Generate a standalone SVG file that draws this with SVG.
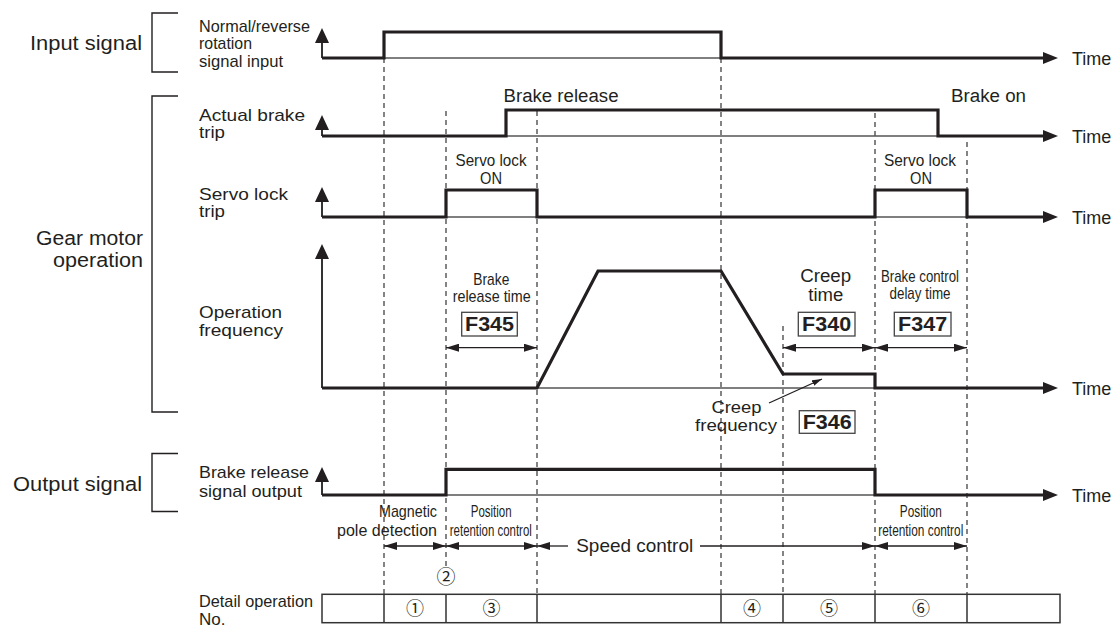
<svg xmlns="http://www.w3.org/2000/svg" xmlns:xlink="http://www.w3.org/1999/xlink" width="1115" height="627" viewBox="0 0 1115 627">
<style>
text{font-family:"Liberation Sans",Arial,sans-serif;fill:#231f20}
.grp{font-size:20px}
.lbl{font-size:17px}
.cnd{font-size:17px;text-anchor:middle}
.mid{text-anchor:middle}
.fc{font-size:20px;font-weight:bold;text-anchor:middle}
.num{font-family:"Noto Sans CJK JP","DejaVu Sans",sans-serif;font-size:18px;text-anchor:middle}
.sig{fill:none;stroke:#231f20;stroke-width:3.2;stroke-linejoin:miter}
.base{stroke:#555;stroke-width:1.3}
.axis{stroke:#333;stroke-width:2}
.brk{fill:none;stroke:#231f20;stroke-width:1.4}
.dash{stroke:#333;stroke-width:1.2;stroke-dasharray:5 4}
.dim{stroke:#231f20;stroke-width:1.3;fill:none}
.box{fill:#fff;stroke:#444;stroke-width:1.3}
.tbl{fill:none;stroke:#333;stroke-width:1.5}
</style>
<defs>
<path id="tri-r" d="M-15,-6 L0,0 L-15,6 z" fill="#231f20"/>
<path id="tri-u" d="M-7,15 L0,0 L7,15 z" fill="#231f20"/>
<marker id="dh" markerUnits="userSpaceOnUse" markerWidth="13" markerHeight="8" refX="13" refY="4" orient="auto-start-reverse">
<path d="M0,0 L13,4 L0,8 z" fill="#231f20"/>
</marker>
<marker id="sh" markerUnits="userSpaceOnUse" markerWidth="10" markerHeight="6" refX="10" refY="3" orient="auto">
<path d="M0,0 L10,3 L0,6 z" fill="#231f20"/>
</marker>
</defs>

<g id="group-labels">
<text class="grp" x="142" y="50" text-anchor="end" textLength="112" lengthAdjust="spacingAndGlyphs">Input signal</text>
<path class="brk" d="M178,13 H152 V72 H178"/>
<text class="grp" x="143" y="245" text-anchor="end" textLength="107" lengthAdjust="spacingAndGlyphs">Gear motor</text>
<text class="grp" x="143" y="267" text-anchor="end" textLength="90" lengthAdjust="spacingAndGlyphs">operation</text>
<path class="brk" d="M178,96 H152 V412 H178"/>
<text class="grp" x="142" y="490.5" text-anchor="end" textLength="129" lengthAdjust="spacingAndGlyphs">Output signal</text>
<path class="brk" d="M178,453.5 H152 V511.5 H178"/>
</g>

<g id="dashed-guides">
<line class="dash" x1="384" y1="58" x2="384" y2="594"/>
<line class="dash" x1="446" y1="111" x2="446" y2="566"/>
<line class="dash" x1="537" y1="111" x2="537" y2="594"/>
<line class="dash" x1="721" y1="58" x2="721" y2="594"/>
<line class="dash" x1="783" y1="326" x2="783" y2="594"/>
<line class="dash" x1="875" y1="113" x2="875" y2="594"/>
<line class="dash" x1="967" y1="142" x2="967" y2="594"/>
</g>

<g id="input-signal">
<text class="lbl" x="199" y="31.5" textLength="111" lengthAdjust="spacingAndGlyphs">Normal/reverse</text>
<text class="lbl" x="199" y="49.3" textLength="53" lengthAdjust="spacingAndGlyphs">rotation</text>
<text class="lbl" x="199" y="66.7" textLength="84" lengthAdjust="spacingAndGlyphs">signal input</text>
<line class="axis" x1="322" y1="58" x2="322" y2="42"/>
<use xlink:href="#tri-u" x="322" y="28"/>
<line class="base" x1="384" y1="58" x2="721" y2="58"/>
<path class="sig" d="M322,58 H384 V32 H721 V58 H1046"/>
<use xlink:href="#tri-r" x="1058" y="58"/>
<text x="1072" y="65" style="font-size:18px">Time</text>
</g>

<g id="actual-brake">
<text class="lbl" x="199" y="120.7" textLength="106" lengthAdjust="spacingAndGlyphs">Actual brake</text>
<text class="lbl" x="199" y="137.7" textLength="26" lengthAdjust="spacingAndGlyphs">trip</text>
<line class="axis" x1="322" y1="136" x2="322" y2="128"/>
<use xlink:href="#tri-u" x="322" y="115"/>
<line class="base" x1="506" y1="136" x2="938" y2="136"/>
<path class="sig" d="M322,136 H506 V110 H938 V136 H1046"/>
<use xlink:href="#tri-r" x="1058" y="136"/>
<text x="1072" y="143" style="font-size:18px">Time</text>
<text class="mid" x="561" y="101.5" style="font-size:18px" textLength="115" lengthAdjust="spacingAndGlyphs">Brake release</text>
<text x="951" y="101.5" style="font-size:18px" textLength="75" lengthAdjust="spacingAndGlyphs">Brake on</text>
</g>

<g id="servo-lock">
<text class="lbl" x="199" y="200" textLength="89" lengthAdjust="spacingAndGlyphs">Servo lock</text>
<text class="lbl" x="199" y="217" textLength="26" lengthAdjust="spacingAndGlyphs">trip</text>
<line class="axis" x1="322" y1="217" x2="322" y2="200"/>
<use xlink:href="#tri-u" x="322" y="187"/>
<line class="base" x1="446" y1="217" x2="537" y2="217"/>
<line class="base" x1="875" y1="217" x2="967" y2="217"/>
<path class="sig" d="M322,217 H446 V190 H537 V217 H875 V190 H967 V217 H1046"/>
<use xlink:href="#tri-r" x="1058" y="217"/>
<text x="1072" y="224" style="font-size:18px">Time</text>
<text class="cnd" x="491" y="166" textLength="71" lengthAdjust="spacingAndGlyphs">Servo lock</text>
<text class="cnd" x="491" y="184.3" textLength="22" lengthAdjust="spacingAndGlyphs">ON</text>
<text class="cnd" x="920" y="166" textLength="72" lengthAdjust="spacingAndGlyphs">Servo lock</text>
<text class="cnd" x="921" y="184.3" textLength="22" lengthAdjust="spacingAndGlyphs">ON</text>
</g>

<g id="operation-frequency">
<text class="lbl" x="199" y="318.3" textLength="83" lengthAdjust="spacingAndGlyphs">Operation</text>
<text class="lbl" x="199" y="336" textLength="84" lengthAdjust="spacingAndGlyphs">frequency</text>
<line class="axis" x1="322" y1="388" x2="322" y2="258"/>
<use xlink:href="#tri-u" x="322" y="244"/>
<line class="base" x1="537" y1="388" x2="875" y2="388"/>
<path class="sig" d="M322,388 H537 L598,271 H721 L783,374 H875 V388 H1046"/>
<use xlink:href="#tri-r" x="1058" y="388"/>
<text x="1072" y="395" style="font-size:18px">Time</text>
</g>

<g id="brake-release-time">
<text class="cnd" x="491.3" y="285" textLength="36" lengthAdjust="spacingAndGlyphs">Brake</text>
<text class="cnd" x="491.7" y="302.3" textLength="78" lengthAdjust="spacingAndGlyphs">release time</text>
<rect class="box" x="461.7" y="312.3" width="55.6" height="23.7"/>
<text class="fc" x="489.5" y="331" textLength="49" lengthAdjust="spacingAndGlyphs">F345</text>
<line class="dim" x1="446" y1="347.7" x2="537" y2="347.7" marker-start="url(#dh)" marker-end="url(#dh)"/>
</g>

<g id="creep-time">
<text class="mid" x="825.7" y="282.3" style="font-size:18px" textLength="51" lengthAdjust="spacingAndGlyphs">Creep</text>
<text class="mid" x="825.8" y="301" style="font-size:18px" textLength="35" lengthAdjust="spacingAndGlyphs">time</text>
<rect class="box" x="798.3" y="312.3" width="56.7" height="23.7"/>
<text class="fc" x="826.6" y="331" textLength="49" lengthAdjust="spacingAndGlyphs">F340</text>
<line class="dim" x1="783" y1="347.7" x2="875" y2="347.7" marker-start="url(#dh)" marker-end="url(#dh)"/>
</g>

<g id="brake-control-delay-time">
<text class="cnd" x="920" y="281.7" textLength="78" lengthAdjust="spacingAndGlyphs">Brake control</text>
<text class="cnd" x="920" y="299.3" textLength="61" lengthAdjust="spacingAndGlyphs">delay time</text>
<rect class="box" x="894.3" y="312.3" width="56.7" height="23.7"/>
<text class="fc" x="922.6" y="331" textLength="49" lengthAdjust="spacingAndGlyphs">F347</text>
<line class="dim" x1="875" y1="347.7" x2="967" y2="347.7" marker-start="url(#dh)" marker-end="url(#dh)"/>
</g>

<g id="creep-frequency">
<text class="mid" x="736.5" y="413" style="font-size:17px" textLength="50" lengthAdjust="spacingAndGlyphs">Creep</text>
<text class="mid" x="736" y="430.5" style="font-size:17px" textLength="82" lengthAdjust="spacingAndGlyphs">frequency</text>
<line class="dim" x1="769" y1="403" x2="822" y2="379" stroke-width="1" marker-end="url(#sh)"/>
<rect class="box" x="799.3" y="410.7" width="55.7" height="22.6"/>
<text class="fc" x="827.2" y="429" textLength="49" lengthAdjust="spacingAndGlyphs">F346</text>
</g>

<g id="output-signal">
<text class="lbl" x="199" y="478.3" textLength="110" lengthAdjust="spacingAndGlyphs">Brake release</text>
<text class="lbl" x="199" y="496.7" textLength="103" lengthAdjust="spacingAndGlyphs">signal output</text>
<line class="axis" x1="322" y1="495" x2="322" y2="481"/>
<use xlink:href="#tri-u" x="322" y="467"/>
<line class="base" x1="446" y1="495" x2="875" y2="495"/>
<path class="sig" d="M322,495 H446 V469.3 H875 V495 H1046"/>
<use xlink:href="#tri-r" x="1058" y="495"/>
<text x="1072" y="502" style="font-size:18px">Time</text>
</g>

<g id="control-phases">
<text class="cnd" x="437" y="517.3" style="text-anchor:end" textLength="58" lengthAdjust="spacingAndGlyphs">Magnetic</text>
<text class="cnd" x="437" y="535.7" style="text-anchor:end" textLength="100" lengthAdjust="spacingAndGlyphs">pole detection</text>
<line class="dim" x1="384" y1="546" x2="446" y2="546" marker-start="url(#dh)" marker-end="url(#dh)"/>
<text class="cnd" x="491.2" y="517.3" textLength="41" lengthAdjust="spacingAndGlyphs">Position</text>
<text class="cnd" x="490.8" y="536.3" textLength="82" lengthAdjust="spacingAndGlyphs">retention control</text>
<line class="dim" x1="446" y1="546" x2="537" y2="546" marker-start="url(#dh)" marker-end="url(#dh)"/>
<text class="mid" x="634.7" y="551.7" style="font-size:19px" textLength="117" lengthAdjust="spacingAndGlyphs">Speed control</text>
<line class="dim" x1="537" y1="546" x2="568" y2="546" marker-start="url(#dh)"/>
<line class="dim" x1="700" y1="546" x2="875" y2="546" marker-end="url(#dh)"/>
<text class="cnd" x="920.8" y="517.3" textLength="42" lengthAdjust="spacingAndGlyphs">Position</text>
<text class="cnd" x="920.8" y="536.3" textLength="85" lengthAdjust="spacingAndGlyphs">retention control</text>
<line class="dim" x1="875" y1="546" x2="967" y2="546" marker-start="url(#dh)" marker-end="url(#dh)"/>
<text class="num" x="446" y="584" style="font-size:19px">②</text>
</g>

<g id="detail-operation-table">
<text class="lbl" x="199" y="606.7" textLength="114" lengthAdjust="spacingAndGlyphs">Detail operation</text>
<text class="lbl" x="199" y="625">No.</text>
<rect class="tbl" x="322" y="594.3" width="738" height="28.4"/>
<path class="tbl" d="M384,594.3 V622.7 M446,594.3 V622.7 M537,594.3 V622.7 M721,594.3 V622.7 M783,594.3 V622.7 M875,594.3 V622.7 M967,594.3 V622.7"/>
<text class="num" x="415" y="614.5">①</text>
<text class="num" x="491.5" y="614.5">③</text>
<text class="num" x="752" y="614.5">④</text>
<text class="num" x="829" y="614.5">⑤</text>
<text class="num" x="921" y="614.5">⑥</text>
</g>
</svg>
